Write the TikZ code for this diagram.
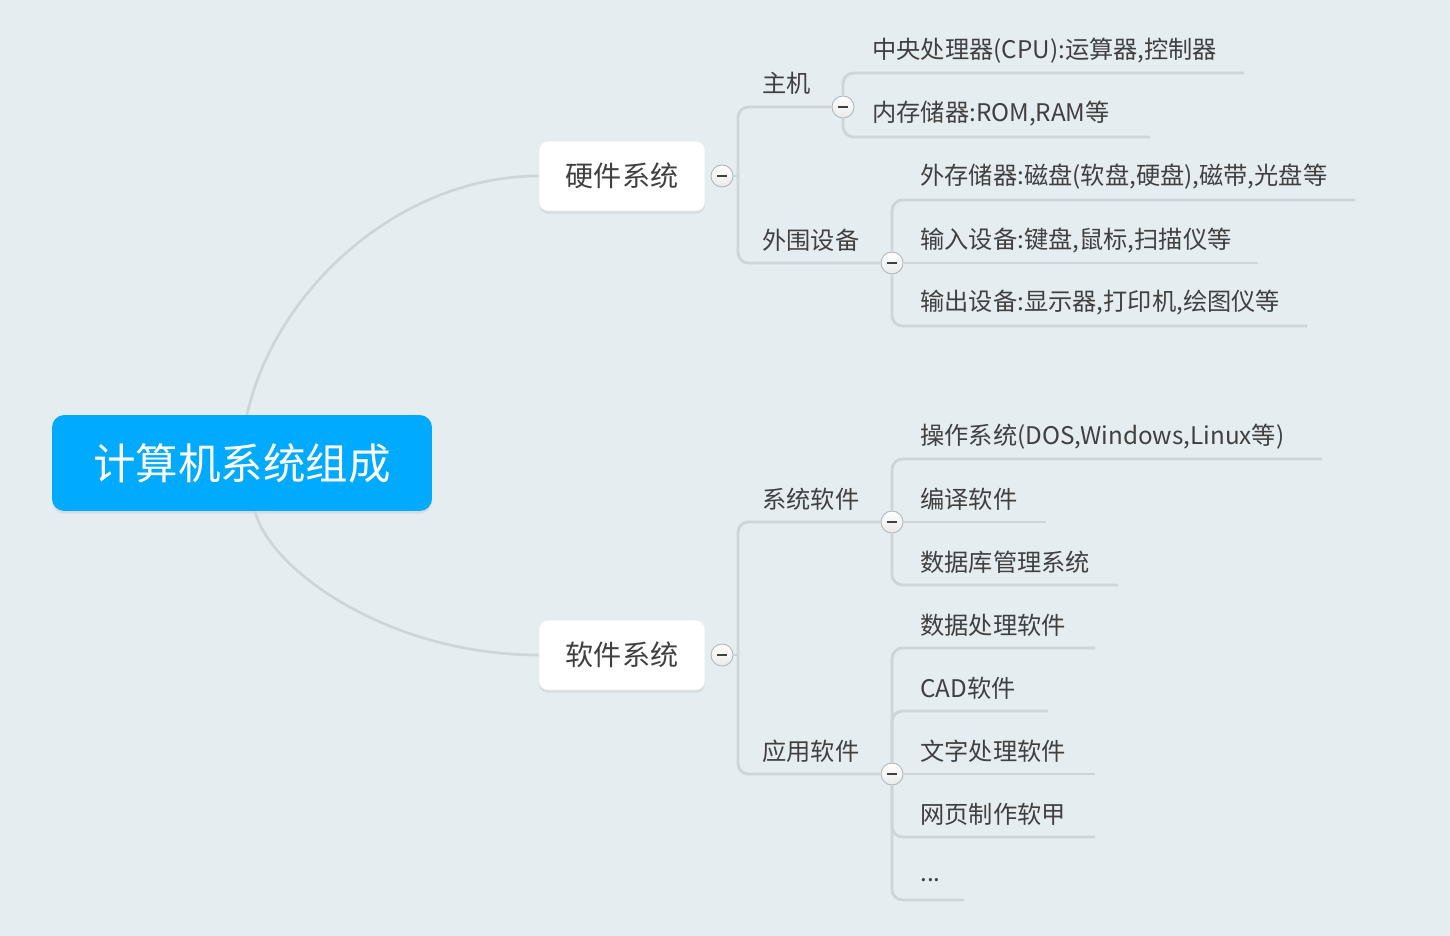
\documentclass[tikz,border=0pt]{standalone}
\usepackage{fontspec}
\setmainfont{Noto Sans CJK SC}
\usepackage{xcolor}
\usepackage{tikz}
\usetikzlibrary{shadows}

\definecolor{bgcol}{RGB}{230,237,240}
\definecolor{linecol}{RGB}{206,212,215}
\definecolor{rootcol}{RGB}{0,170,255}
\definecolor{txtcol}{RGB}{64,64,64}
\definecolor{btncol}{RGB}{176,182,186}

\begin{document}
\begin{tikzpicture}[x=0.02cm, y=-0.02cm,
    root/.style={fill=rootcol, rounded corners=7pt, minimum width=7.6cm, minimum height=1.92cm,
        text=white, font=\fontsize{24.2}{28}\selectfont,
        drop shadow={shadow xshift=0pt, shadow yshift=-1.5pt, opacity=0.15}},
    topic/.style={fill=white, draw=linecol!50, rounded corners=5pt, minimum width=3.32cm,
        minimum height=1.4cm, text=txtcol, font=\fontsize{16}{19}\selectfont,
        drop shadow={shadow xshift=0pt, shadow yshift=-1.5pt, opacity=0.15}},
    sub/.style={anchor=west, inner sep=0pt, text=txtcol, font=\fontsize{13.8}{16}\selectfont},
    btn/.style={circle, draw=btncol, line width=0.5pt, top color=white, bottom color=black!8,
        minimum size=0.44cm, inner sep=0pt,
        path picture={\draw[txtcol, line width=1.2pt]
            (path picture bounding box.center) ++(-2.8pt,0) -- ++(5.6pt,0);}},
    branch/.style={draw=linecol, line width=1.6pt, rounded corners=6pt},
    curve/.style={draw=linecol, line width=1.5pt}]

\fill[bgcol] (0,0) rectangle (1450,936);
\useasboundingbox (0,0) rectangle (1450,936);

% ── Root ─────────────────────────────────────────────────────────
\node[root] (root) at (242,463) {计算机系统组成};

% ── 硬件系统 ─────────────────────────────────────────────────────
\node[topic] (hw) at (622,176) {硬件系统};
\node[btn] (hwbtn) at (722,176) {};
\coordinate (hwbus) at (738,176);

% 主机
\node[sub] (zj) at (762,83) {主机};
\node[btn] (zjbtn) at (843,107) {};
\node[sub] (cpu) at (872,51) {中央处理器(CPU):运算器,控制器};
\node[sub] (mem) at (872,114) {内存储器:ROM,RAM等};
\coordinate (cpuend) at (1244,73);
\coordinate (memend) at (1150,137);

% 外围设备
\node[sub] (ww) at (762,240) {外围设备};
\node[btn] (wwbtn) at (892,263) {};
\node[sub] (wc) at (920,177) {外存储器:磁盘(软盘,硬盘),磁带,光盘等};
\node[sub] (sr) at (920,240) {输入设备:键盘,鼠标,扫描仪等};
\node[sub] (sc) at (920,303) {输出设备:显示器,打印机,绘图仪等};
\coordinate (wcend) at (1355,200);
\coordinate (srend) at (1258,263);
\coordinate (scend) at (1307,326);

\draw[curve] ([xshift=0.1cm]root.north) .. controls +(28,-125) and +(-139,0) .. (hw.west);
\draw[branch] (hwbtn.east) -- (hwbus);
\draw[branch] (zjbtn.west) -| (hwbus) |- (wwbtn.west);
\draw[branch] (zjbtn.north) |- (cpuend);
\draw[branch] (zjbtn.south) |- (memend);
\draw[branch] (wwbtn.north) |- (wcend);
\draw[branch] (wwbtn.east) -- (srend);
\draw[branch] (wwbtn.south) |- (scend);

% ── 软件系统 ─────────────────────────────────────────────────────
\node[topic] (sw) at (622,655) {软件系统};
\node[btn] (swbtn) at (722,655) {};
\coordinate (swbus) at (738,655);

% 系统软件
\node[sub] (xt) at (762,499) {系统软件};
\node[btn] (xtbtn) at (892,522) {};
\node[sub] (czxt) at (920,437) {操作系统(DOS,Windows,Linux等)};
\node[sub] (by) at (920,499) {编译软件};
\node[sub] (sjk) at (920,562) {数据库管理系统};
\coordinate (czxtend) at (1322,459);
\coordinate (byend) at (1046,522);
\coordinate (sjkend) at (1118,585);

% 应用软件
\node[sub] (yy) at (762,751) {应用软件};
\node[btn] (yybtn) at (892,774) {};
\node[sub] (sjcl) at (920,625) {数据处理软件};
\node[sub] (cad) at (920,688) {CAD软件};
\node[sub] (wz) at (920,751) {文字处理软件};
\node[sub] (wy) at (920,814) {网页制作软甲};
\node[sub] (dots) at (920,880) {...};
\coordinate (sjclend) at (1095,648);
\coordinate (cadend) at (1048,711);
\coordinate (wzend) at (1095,774);
\coordinate (wyend) at (1095,837);
\coordinate (dotsend) at (964,900);

\draw[curve] ([xshift=0.26cm]root.south) .. controls +(15,59) and +(-149,0) .. (sw.west);
\draw[branch] (swbtn.east) -- (swbus);
\draw[branch] (xtbtn.west) -| (swbus) |- (yybtn.west);
\draw[branch] (xtbtn.north) |- (czxtend);
\draw[branch] (xtbtn.east) -- (byend);
\draw[branch] (xtbtn.south) |- (sjkend);
\draw[branch] (yybtn.north) |- (sjclend);
\draw[branch] (yybtn.north) |- (cadend);
\draw[branch] (yybtn.east) -- (wzend);
\draw[branch] (yybtn.south) |- (wyend);
\draw[branch] (yybtn.south) |- (dotsend);

\end{tikzpicture}
\end{document}
